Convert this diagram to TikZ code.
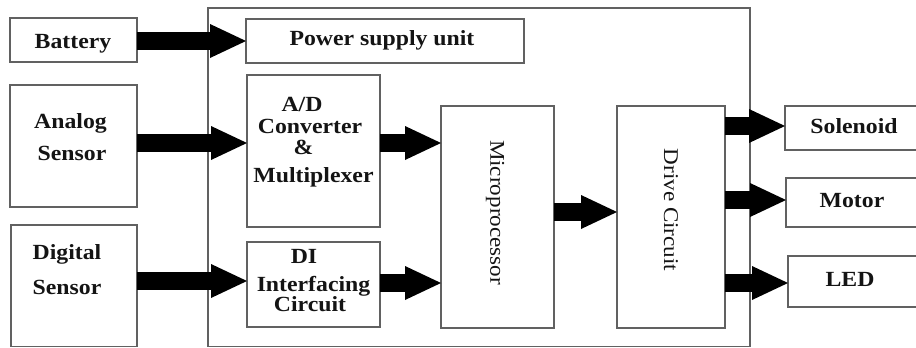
\documentclass[tikz,border=0pt]{standalone}
\usepackage{fontspec}
\setmainfont{Liberation Serif}[FakeStretch=1.1]
\usetikzlibrary{arrows.meta}
\newcommand\mybox[5]{\node[box, minimum width=#4pt, minimum height=#5pt] (#1) at (#2,#3) {};}
\begin{document}
\begin{tikzpicture}[x=1pt,y=-1pt,
  box/.style={draw=black!62, line width=1.4pt, inner sep=0pt, outer sep=0pt, fill=white},
  lbl/.style={font=\fontsize{21.6}{25}\selectfont\bfseries, inner sep=0pt, anchor=base, text=black!92},
  vlbl/.style={font=\fontsize{21}{25}\selectfont, inner sep=0pt, rotate=-90, text=black!92},
  fat/.style={line width=18pt, draw=black, -{Triangle[length=36pt,width=34pt,line width=0pt]}}
]
\useasboundingbox (0,0) rectangle (916,348);
% boxes
\mybox{outer}{479}{177.25}{542}{338.5}
\mybox{bat}{73.5}{40}{127}{44}
\mybox{psu}{385}{41}{278}{44}
\mybox{an}{73.5}{146}{127}{122}
\mybox{ad}{313.5}{151}{133}{152}
\mybox{dig}{74}{285.75}{126}{121.5}
\mybox{di}{313.5}{284.5}{133}{85}
\mybox{mp}{497.5}{217}{113}{222}
\mybox{dc}{671}{217}{108}{222}
\mybox{sol}{851.5}{128}{133}{44}
\mybox{mot}{852}{202.5}{132}{49}
\mybox{led}{853}{281.5}{130}{51}
% arrows
\draw[fat] (bat.east |- 0,41) -- (psu.west |- 0,41);
\draw[fat] (an.east |- 0,143) -- (ad.west |- 0,143);
\draw[fat] (ad.east |- 0,143) -- (mp.west |- 0,143);
\draw[fat] (dig.east |- 0,281) -- (di.west |- 0,281);
\draw[fat] (di.east |- 0,283) -- (mp.west |- 0,283);
\draw[fat] (mp.east |- 0,212) -- (dc.west |- 0,212);
\draw[fat] (dc.east |- 0,126) -- (sol.west |- 0,126);
\draw[fat] (dc.east |- 0,200) -- (mot.west |- 0,200);
\draw[fat] (dc.east |- 0,283) -- (led.west |- 0,283);
% labels
\node[lbl] (tbat) at (73,48) {Battery};
\node[lbl] (tpsu) at (382,45) {Power supply unit};
\node[lbl] (tan1) at (70.5,128) {Analog};
\node[lbl] (tan2) at (72,160) {Sensor};
\node[lbl] (tdig1) at (67,259) {Digital};
\node[lbl] (tdig2) at (67,294) {Sensor};
\node[lbl] (tad1) at (302,111) {A/D};
\node[lbl] (tad2) at (310,133) {Converter};
\node[lbl] (tad3) at (303.5,154.5) {\&};
\node[lbl] (tad4) at (313.5,182) {Multiplexer};
\node[lbl] (tdi1) at (304,263) {DI};
\node[lbl] (tdi2) at (313.5,291) {Interfacing};
\node[lbl] (tdi3) at (310,311) {Circuit};
\node[lbl] (tsol) at (854,133) {Solenoid};
\node[lbl] (tmot) at (852,207) {Motor};
\node[lbl] (tled) at (850,286) {LED};
\node[vlbl] (tmp) at (495,212.5) {Microprocessor};
\node[vlbl] (tdc) at (671,210) {Drive Circuit};
\end{tikzpicture}
\end{document}
